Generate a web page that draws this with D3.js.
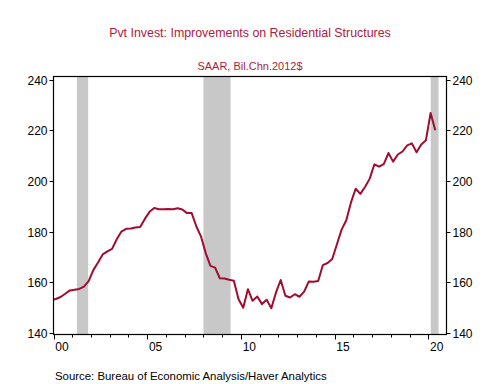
<!DOCTYPE html>
<html>
<head>
<meta charset="utf-8">
<script src="https://cdn.jsdelivr.net/npm/d3@7"></script>
<style>
body{margin:0;background:#fff;}
text{font-family:"Liberation Sans",Arial,sans-serif;}
</style>
</head>
<body>
<div id="chart"></div>
<script>
// quarterly series, first point is 1999Q4
var firstYear = 1999, firstQuarter = 4;
var values = [
	153.0,
	153.4,154.2,155.5,156.8, 157.1,157.4,158.3,160.5, 164.8,167.8,171.0,172.2, 173.2,177.0,180.0,181.1,
	181.2,181.6,181.8,185.0, 187.8,189.3,188.8,188.8, 188.9,188.8,189.2,188.7, 187.3,187.3,182.0,178.0,
	171.5,166.5,165.8,161.6, 161.5,161.0,160.6,153.3, 150.0,157.3,152.7,154.4, 151.4,153.1,149.8,156.0,
	160.9,154.7,154.0,155.3, 154.3,156.3,160.3,160.2, 160.5,166.8,167.6,169.2, 175.0,180.8,184.5,191.5,
	196.9,194.9,197.6,200.9, 206.5,205.6,206.6,211.0, 207.6,210.4,211.6,214.0, 214.8,211.3,214.4,216.0,
	226.8,220.0
];
var recessions = [[2001.25,2001.85],[2008.0,2009.45],[2020.13,2020.55]];
var yTicks = [140,160,180,200,220,240];
var xLabels = ["00","05","10","15","20"];
var xLabelYears = [2000,2005,2010,2015,2020];

var W = 500, H = 384;
var pL = 53.5, pR = 446.5, pT = 76.5, pB = 334.5;

var svg = d3.select("#chart").append("svg").attr("width",W).attr("height",H);

var x = d3.scaleLinear().domain([2000,2021]).range([pL,pR+0.5]);
var y = d3.scaleLinear().domain([140,240]).range([333,79.5]);

var pts = values.map(function(v,i){
	var q = firstQuarter-1+i;
	var t = firstYear + Math.floor(q/4) + (q%4)/4 + 0.125;
	return {t:t, v:v};
});

svg.append("clipPath").attr("id","clip")
	.append("rect").attr("x",pL).attr("y",pT).attr("width",pR-pL).attr("height",pB-pT);

var plot = svg.append("g").attr("clip-path","url(#clip)");

plot.selectAll(".rec").data(recessions).enter().append("rect")
	.attr("x",function(d){return x(d[0]);})
	.attr("width",function(d){return x(d[1])-x(d[0]);})
	.attr("y",pT).attr("height",pB-pT)
	.style("fill","#c8c8c8");

plot.append("path").datum(pts)
	.attr("d",d3.line().x(function(d){return x(d.t);}).y(function(d){return y(d.v);}))
	.style("fill","none").style("stroke","#a00d30").style("stroke-width",2)
	.style("stroke-linejoin","round");

// frame
svg.append("rect").attr("x",pL).attr("y",pT).attr("width",pR-pL).attr("height",pB-pT)
	.style("fill","none").style("stroke","#000").style("stroke-width",1.2);

// y ticks both sides
yTicks.forEach(function(v){
	var yy = Math.round(y(v))+0.5;
	svg.append("line").attr("x1",pL-4).attr("x2",pL).attr("y1",yy).attr("y2",yy).style("stroke","#000");
	svg.append("line").attr("x1",pR).attr("x2",pR+4).attr("y1",yy).attr("y2",yy).style("stroke","#000");
	svg.append("text").attr("x",pL-6).attr("y",yy+4.5).attr("text-anchor","end")
		.style("font-size","12px").text(v);
	svg.append("text").attr("x",pR+6).attr("y",yy+4.5).attr("text-anchor","start")
		.style("font-size","12px").text(v);
});

// x ticks
d3.range(2000,2021).forEach(function(yr){
	var xx = Math.round(x(yr))+0.5;
	var len = yr%5==0 ? 5 : 3;
	svg.append("line").attr("x1",xx).attr("x2",xx).attr("y1",pB).attr("y2",pB+len).style("stroke","#000");
});
xLabels.forEach(function(l,i){
	svg.append("text").attr("x",x(xLabelYears[i]+0.45)).attr("y",351).attr("text-anchor","middle")
		.style("font-size","12px").text(l);
});

svg.append("text").attr("x",250).attr("y",37).attr("text-anchor","middle")
	.style("font-size","12.4px").style("fill","#b01a40")
	.text("Pvt Invest: Improvements on Residential Structures");
svg.append("text").attr("x",250).attr("y",70).attr("text-anchor","middle")
	.style("font-size","11px").style("fill","#b01a40")
	.text("SAAR, Bil.Chn.2012$");
svg.append("text").attr("x",55).attr("y",380)
	.style("font-size","11.4px").style("fill","#000")
	.text("Source:  Bureau of Economic Analysis/Haver Analytics");
</script>
</body>
</html>
